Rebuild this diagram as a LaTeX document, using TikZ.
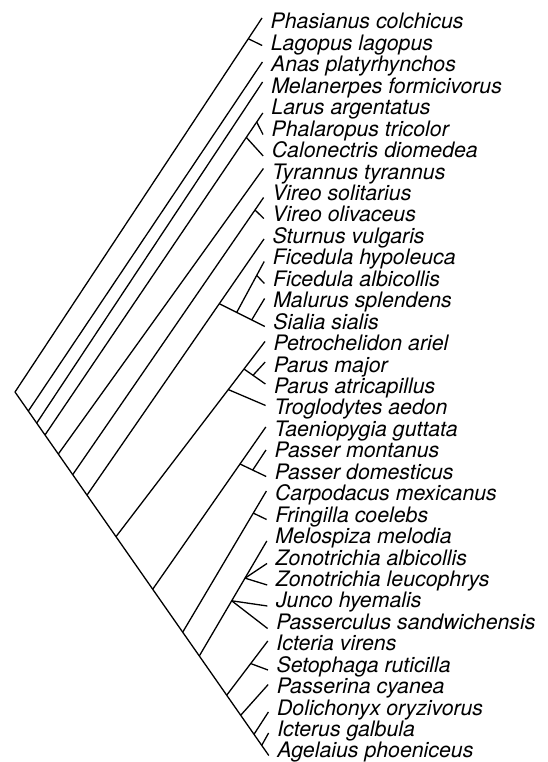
\documentclass[tikz,border=0pt]{standalone}
\usepackage{fontspec}
\setmainfont{TeX Gyre Heros}
\usetikzlibrary{calc}
\begin{document}
\begin{tikzpicture}[x=1pt,y=-1pt,line width=1.3pt,
  lab/.style={anchor=base west,inner sep=0pt,font=\fontsize{21.3}{24}\selectfont\itshape}]
\useasboundingbox (0,0) rectangle (547,762);
% tip ends
\foreach \i/\yy in {0/18,1/45.5,2/62,3/82,4/113,5/134.5,6/156,7/168.5,8/197.5,9/218.5,
  10/239,11/261.5,12/283.5,13/298.5,14/326.5,15/341.5,16/362,17/384,18/405.5,19/427,
  20/450,21/476.5,22/491,23/519.5,24/541,25/563.5,26/585,27/606,28/628.5,29/641,
  30/670,31/684.5,32/712,33/733,34/755.5}
  \coordinate (t\i) at ({262+0.2*\i},\yy);
% labels
\foreach \i/\t in {0/Phasianus colchicus,1/Lagopus lagopus,2/Anas platyrhynchos,
  3/Melanerpes formicivorus,4/Larus argentatus,5/Phalaropus tricolor,6/Calonectris diomedea,
  7/Tyrannus tyrannus,8/Vireo solitarius,9/Vireo olivaceus,10/Sturnus vulgaris,
  11/Ficedula hypoleuca,12/Ficedula albicollis,13/Malurus splendens,14/Sialia sialis,
  15/Petrochelidon ariel,16/Parus major,17/Parus atricapillus,18/Troglodytes aedon,
  19/Taeniopygia guttata,20/Passer montanus,21/Passer domesticus,22/Carpodacus mexicanus,
  23/Fringilla coelebs,24/Melospiza melodia,25/Zonotrichia albicollis,
  26/Zonotrichia leucophrys,27/Junco hyemalis,28/Passerculus sandwichensis,
  29/Icteria virens,30/Setophaga ruticilla,31/Passerina cyanea,32/Dolichonyx oryzivorus,
  33/Icterus galbula,34/Agelaius phoeniceus}
  \node[lab] (L\i) at ({270+0.2*\i},{29+21.44*\i}) {\t};
% internal nodes
\coordinate (R) at (15,392);
\foreach \n/\xx in {B1/28.3,B2/36.7,B3/45,B4/58.3,B5/72.7,B6/87,B7/116,B8/152.7,
  B9/182.7,B10/199.3,B11/226.7,B12/240.7,B13/254,B14/261.7}
  \coordinate (\n) at ($(R)!{(\xx-15)/253.8}!(t34)$);
\coordinate (PL) at ($(R)!{(248.3-15)/(262-15)}!(t0)$);
\coordinate (N2) at ($(B3)!{(246.3-45)/(262.8-45)}!(t4)$);
\coordinate (N1) at ($(B3)!{(256.7-45)/(262.8-45)}!(t4)$);
\coordinate (V) at ($(B5)!{(255-72.7)/(263.6-72.7)}!(t8)$);
\coordinate (S0) at ($(B6)!{(219.3-87)/(264-87)}!(t10)$);
\coordinate (X) at ($(S0)!{(236.7-219.3)/(264.8-219.3)}!(t14)$);
\coordinate (Y) at ($(S0)!{(251.7-219.3)/(264.8-219.3)}!(t14)$);
\coordinate (Fic) at ($(X)!{(256.7-236.7)/(264.2-236.7)}!(t11)$);
\coordinate (T) at ($(B7)!{(228.3-116)/(265-116)}!(t15)$);
\coordinate (P1) at ($(B7)!{(244-116)/(265-116)}!(t15)$);
\coordinate (P2) at ($(P1)!{(253-244)/(265.4-244)}!(t17)$);
\coordinate (TP) at ($(B8)!{(240-152.7)/(265.8-152.7)}!(t19)$);
\coordinate (Pas) at ($(TP)!{(252.7-240)/(266.2-240)}!(t21)$);
\coordinate (CF) at ($(B9)!{(253.3-182.7)/(266.4-182.7)}!(t22)$);
\coordinate (S1) at ($(B10)!{(231.7-199.3)/(266.8-199.3)}!(t24)$);
\coordinate (S2) at ($(B10)!{(245-199.3)/(266.8-199.3)}!(t24)$);
\coordinate (IS) at ($(B11)!{(250.7-226.7)/(267.8-226.7)}!(t29)$);
% branches
\draw (R) -- (PL) -- (t0);
\draw (PL) -- (t1);
\draw (R) -- (B1) -- (B2) -- (B3) -- (B4) -- (B5) -- (B6) -- (B7) -- (B8) -- (B9)
  -- (B10) -- (B11) -- (B12) -- (B13) -- (B14) -- (t34);
\draw (B1) -- (t2);
\draw (B2) -- (t3);
\draw (B3) -- (N2) -- (N1) -- (t4);
\draw (N1) -- (t5);
\draw (N2) -- (t6);
\draw (B4) -- (t7);
\draw (B5) -- (V) -- (t8);
\draw (V) -- (t9);
\draw (B6) -- (S0) -- (t10);
\draw (S0) -- (X) -- (Y) -- (t14);
\draw (X) -- (Fic) -- (t11);
\draw (Fic) -- (t12);
\draw (Y) -- (t13);
\draw (B7) -- (T) -- (P1) -- (t15);
\draw (T) -- (t18);
\draw (P1) -- (P2) -- (t17);
\draw (P2) -- (t16);
\draw (B8) -- (TP) -- (t19);
\draw (TP) -- (Pas) -- (t21);
\draw (Pas) -- (t20);
\draw (B9) -- (CF) -- (t22);
\draw (CF) -- (t23);
\draw (B10) -- (S1) -- (S2) -- (t24);
\draw (S2) -- (t25);
\draw (S2) -- (t26);
\draw (S1) -- (t27);
\draw (S1) -- (t28);
\draw (B11) -- (IS) -- (t29);
\draw (IS) -- (t30);
\draw (B12) -- (t31);
\draw (B13) -- (t32);
\draw (B14) -- (t33);
\end{tikzpicture}
\end{document}
